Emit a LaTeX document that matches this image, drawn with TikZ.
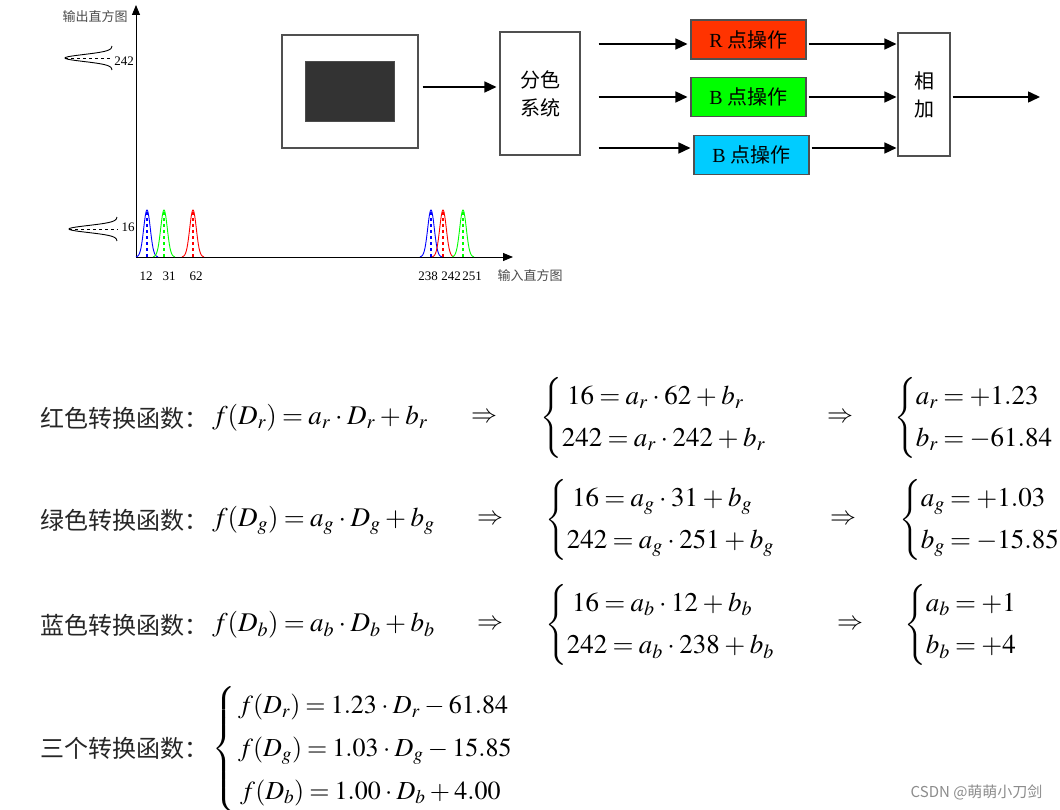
\documentclass[tikz,border=0pt]{standalone}
\usepackage{amsmath}
\usepackage{mathptmx}
\usepackage{fontspec}
\setmainfont{Liberation Serif}
\newfontfamily\cjk{Noto Sans CJK SC}
\usetikzlibrary{arrows.meta,positioning,calc}
\definecolor{rfill}{RGB}{255,51,0}
\definecolor{gfill}{RGB}{0,255,0}
\definecolor{bfill}{RGB}{0,204,255}
\definecolor{boxline}{RGB}{80,80,80}
\thickmuskip=3.5mu
\medmuskip=3mu

\begin{document}
\begin{tikzpicture}[x=1pt, y=-1pt,
  box/.style={draw=boxline, line width=1.1pt, inner sep=0pt, align=center, font=\cjk\fontsize{20}{28}\selectfont},
  op/.style={box, minimum width=115pt, minimum height=39pt, font=\fontsize{20}{22}\selectfont},
  arr/.style={-{Triangle[length=12pt,width=11pt]}, line width=1.5pt},
  axis/.style={-{Triangle[length=10pt,width=8pt]}, line width=0.9pt},
  tick/.style={font=\fontsize{13}{15}\selectfont},
  hlab/.style={font=\cjk\fontsize{13}{15}\selectfont, text=black!70},
  eqcn/.style={anchor=west, inner xsep=0pt, font=\cjk\fontsize{24}{28}\selectfont, text=black!85},
  eq/.style={anchor=west, inner xsep=0pt, font=\fontsize{27}{31}\selectfont},
  imp/.style={font=\fontsize{26}{31}\selectfont}]
\useasboundingbox (0,0) rectangle (1060,810);
\fill[white] (0,0) rectangle (1060,810);
\coordinate (O) at (136,257);
\coordinate (ytop) at (136,5);
\coordinate (xend) at (513,257);
\draw[axis] (O) -- (ytop);
\draw[axis] (O) -- (xend);
\node[hlab] (ylab) at (95,17) {输出直方图};
\node[hlab] (xlab) at (530,276) {输入直方图};
\foreach \px/\col in {147/blue,164/green,193/red,431/blue,443/red,463/green}{
  \draw[\col, line width=0.9pt] plot[domain=-11:11, samples=41, smooth] ({\px+\x},{257-47*exp(-(\x*\x)/22)});
  \draw[\col, dashed, line width=1.2pt] (\px,257) -- (\px,210);
}
\foreach \tx/\tv in {146/12,169/31,196/62,428/238,451/242,472/251}
  \node[tick] (t\tv) at (\tx,276) {\tv};
\draw[line width=0.9pt] plot[domain=-12:12, samples=41, smooth] ({112-47*exp(-(\x*\x)/24)},{58+\x});
\draw[line width=0.9pt] plot[domain=-12:12, samples=41, smooth] ({117-48*exp(-(\x*\x)/24)},{229+\x});
\node[tick] (y242) at (124,61) {242};
\node[tick] (y16) at (128,227) {16};
\draw[dashed, line width=0.9pt] (65,58) -- (y242.west |- 65,58);
\draw[dashed, line width=0.9pt] (69,229) -- (y16.west |- 69,229);

\node[box, minimum width=136pt, minimum height=113pt] (img) at (350,91.5) {};
\node[draw=black!70, fill=black!80, minimum width=89pt, minimum height=60pt] (scr) at (349.5,91) {};
\node[box, minimum width=80pt, minimum height=123pt] (split) at (540,93.5) {分色\\系统};
\node[op, fill=rfill] (rop) at (748.5,39.5) {R \cjk 点操作};
\node[op, fill=gfill] (gop) at (748.5,97) {B \cjk 点操作};
\node[op, fill=bfill] (bop) at (751.5,155) {B \cjk 点操作};
\node[box, minimum width=52pt, minimum height=123pt] (add) at (924,94.5) {相\\加};
\coordinate (imgout) at ($(img.east)+(4,-4.5)$);
\draw[arr, shorten >=3pt] (imgout) -- (imgout -| split.west);
\foreach \op/\dy in {rop/4.5,gop/0,bop/-7}{
  \draw[arr] ($(split.east |- \op.west)+(18,\dy)$) -- ($(\op.west)+(-3,\dy)$);
  \draw[arr] ($(\op.east)+(2,\dy)$) -- ($(add.west |- \op.east)+(-1,\dy)$);
}
\coordinate (out) at (1040,97);
\draw[arr] ($(add.east |- out)+(2,0)$) -- (out);

\node[eqcn] (lr) at (40,418) {红色转换函数：};
\node[eq] (fr) at (212,418) {$f(D_r)=a_r\cdot D_r+b_r$};
\node[imp] (ir) at (484,418) {$\Rightarrow$};
\node[eq] (sr) at (540,418) {$\begin{cases}\;16=a_r\cdot 62+b_r\\[5pt]242=a_r\cdot 242+b_r\end{cases}$};
\node[imp] (jr) at (840,418) {$\Rightarrow$};
\node[eq] (vr) at (894,418) {$\begin{cases}a_r=+1.23\\[5pt]b_r=-61.84\end{cases}$};

\node[eqcn] (lg) at (40,520) {绿色转换函数：};
\node[eq] (fg) at (212,520) {$f(D_g)=a_g\cdot D_g+b_g$};
\node[imp] (ig) at (490,520) {$\Rightarrow$};
\node[eq] (sg) at (545,520) {$\begin{cases}\;16=a_g\cdot 31+b_g\\[5pt]242=a_g\cdot 251+b_g\end{cases}$};
\node[imp] (jg) at (843,520) {$\Rightarrow$};
\node[eq] (vg) at (899,520) {$\begin{cases}a_g=+1.03\\[5pt]b_g=-15.85\end{cases}$};

\node[eqcn] (lb) at (40,625) {蓝色转换函数：};
\node[eq] (fb) at (212,625) {$f(D_b)=a_b\cdot D_b+b_b$};
\node[imp] (ib) at (490,625) {$\Rightarrow$};
\node[eq] (sb) at (545,625) {$\begin{cases}\;16=a_b\cdot 12+b_b\\[5pt]242=a_b\cdot 238+b_b\end{cases}$};
\node[imp] (jb) at (850,625) {$\Rightarrow$};
\node[eq] (vb) at (904,625) {$\begin{cases}a_b=+1\\[5pt]b_b=+4\end{cases}$};

\node[eqcn] (la) at (40,748) {三个转换函数：};
\node[eq, font=\fontsize{26}{31}\selectfont] (fa) at (212,749) {$\begin{cases}\,f(D_r)=1.23\cdot D_r-61.84\\[6pt]\,f(D_g)=1.03\cdot D_g-15.85\\[6pt]\;f(D_b)=1.00\cdot D_b+4.00\end{cases}$};

\node[anchor=east, font=\cjk\fontsize{15}{18}\selectfont, text=black!45] (mark) at (1046,792) {CSDN @萌萌小刀剑};
\end{tikzpicture}
\end{document}
